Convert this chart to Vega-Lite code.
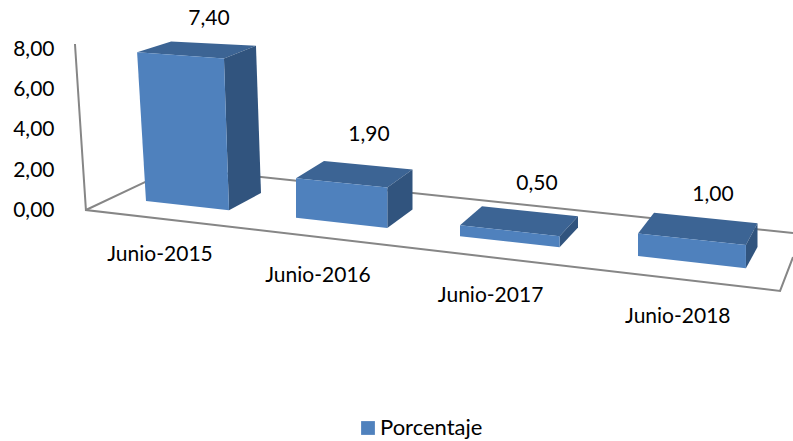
{
"$schema":"https://vega.github.io/schema/vega-lite/v6.json",
"width":793,"height":441,"padding":0,"autosize":{"type":"none"},"background":"white",
"config":{"view":{"stroke":null},"font":"Lato"},
"datasets":{
"bars":[{"idx":0,"periodo":"Junio-2015","porcentaje":7.4},{"idx":1,"periodo":"Junio-2016","porcentaje":1.9},{"idx":2,"periodo":"Junio-2017","porcentaje":0.5},{"idx":3,"periodo":"Junio-2018","porcentaje":1.0}],
"frame":[
{"edge":"a","o":0,"xu":-0.434,"yv":8.2},{"edge":"a","o":1,"xu":-0.367,"yv":-0.05},{"edge":"a","o":2,"xu":3.874,"yv":-4.07},{"edge":"a","o":3,"xu":3.953,"yv":-2.39},
{"edge":"b","o":0,"xu":-0.367,"yv":-0.05},{"edge":"b","o":1,"xu":0.177,"yv":2.04},{"edge":"b","o":2,"xu":3.953,"yv":-1.19}
]},
"encoding":{
"x":{"field":"xu","type":"quantitative","scale":{"domain":[-0.892,3.953],"nice":false,"zero":false},"axis":null},
"y":{"field":"yv","type":"quantitative","scale":{"domain":[-11.528,10.385],"nice":false,"zero":false},
"axis":{"values":[0,2,4,6,8],"title":null,"domain":false,"ticks":false,"grid":false,"offset":-56,"labelPadding":2,"labelOffset":1.5,"labelFont":"Lato","labelFontSize":21,"labelColor":"#000000","labelExpr":"replace(format(datum.value,'.2f'),'.',',')"}}
},
"layer":[
{"data":{"name":"frame"},"mark":{"type":"line","stroke":"#868686","strokeWidth":2,"clip":false},"encoding":{"detail":{"field":"edge"},"order":{"field":"o"}}},
{"data":{"name":"bars"},
"transform":[
{"calculate":"[{f:'top',o:0,s:0,d:0,h:1},{f:'top',o:1,s:1,d:0,h:1},{f:'top',o:2,s:1,d:1,h:1},{f:'top',o:3,s:0,d:1,h:1},{f:'side',o:0,s:1,d:0,h:0},{f:'side',o:1,s:1,d:1,h:0},{f:'side',o:2,s:1,d:1,h:1},{f:'side',o:3,s:1,d:0,h:1},{f:'front',o:0,s:0,d:0,h:0},{f:'front',o:1,s:1,d:0,h:0},{f:'front',o:2,s:1,d:0,h:1},{f:'front',o:3,s:0,d:0,h:1}]","as":"vert"},
{"flatten":["vert"]},
{"calculate":"datum.vert.f","as":"face"},
{"calculate":"datum.vert.o","as":"ord"},
{"calculate":"146+143*datum.idx+7*datum.idx*datum.idx+datum.vert.s*(83+8.3*datum.idx)+datum.vert.d*(datum.vert.s?32-6.8*datum.idx:34-6*datum.idx)","as":"x0"},
{"calculate":"datum.vert.d==0?201+0.112*(datum.x0-146):193+0.109*(datum.x0-261)","as":"floorY"},
{"calculate":"datum.vert.d==0?20.1+0.005*(datum.x0-146):19.2+0.0078*(datum.x0-171)","as":"k"},
{"calculate":"(datum.x0-datum.vert.h*datum.porcentaje*(1.2-0.52*datum.vert.s)*max(0,1-datum.idx)-146)/163.67","as":"xu"},
{"calculate":"(209-(datum.floorY-datum.vert.h*datum.porcentaje*datum.k))/20.125","as":"yv"}
],
"layer":[
{"transform":[{"filter":"datum.face=='top'"}],"mark":{"type":"line","interpolate":"linear-closed","filled":true,"color":"#3C6494"},"encoding":{"detail":{"field":"idx"},"order":{"field":"ord"}}},
{"transform":[{"filter":"datum.face=='side'"}],"mark":{"type":"line","interpolate":"linear-closed","filled":true,"color":"#31547E"},"encoding":{"detail":{"field":"idx"},"order":{"field":"ord"}}},
{"transform":[{"filter":"datum.face=='front'"}],"mark":{"type":"line","interpolate":"linear-closed","filled":true},"encoding":{"detail":{"field":"idx"},"order":{"field":"ord"},
"color":{"datum":"Porcentaje","scale":{"range":["#4F81BD"]},"legend":{"title":null,"orient":"none","legendX":357,"legendY":417,"symbolType":"square","symbolSize":190,"labelOffset":1,"labelFont":"Lato","labelFontSize":22,"labelColor":"#000000"}}}}
]},
{"data":{"name":"bars"},
"transform":[
{"calculate":"(209+156*datum.idx+4*datum.idx*datum.idx-146)/163.67","as":"xu"},
{"calculate":"(209-(166.2+5.5*datum.idx+7.65*datum.idx*(datum.idx-1)-2.5*datum.idx*(datum.idx-1)*(datum.idx-2)-20.1*datum.porcentaje))/20.125","as":"yv"},
{"calculate":"replace(format(datum.porcentaje,'.2f'),'.',',')","as":"etiqueta"}
],
"mark":{"type":"text","font":"Lato","fontSize":21,"color":"#000000","baseline":"middle","align":"center","dy":1.5},
"encoding":{"text":{"field":"etiqueta"}}},
{"data":{"name":"bars"},
"transform":[
{"calculate":"(160+150.7*datum.idx+7.3*datum.idx*datum.idx-146)/163.67","as":"xu"},
{"calculate":"(209-(254+20.6*datum.idx))/20.125","as":"yv"}
],
"mark":{"type":"text","font":"Lato","fontSize":21,"color":"#000000","baseline":"middle","align":"center","dy":1},
"encoding":{"text":{"field":"periodo"}}}
]
}
